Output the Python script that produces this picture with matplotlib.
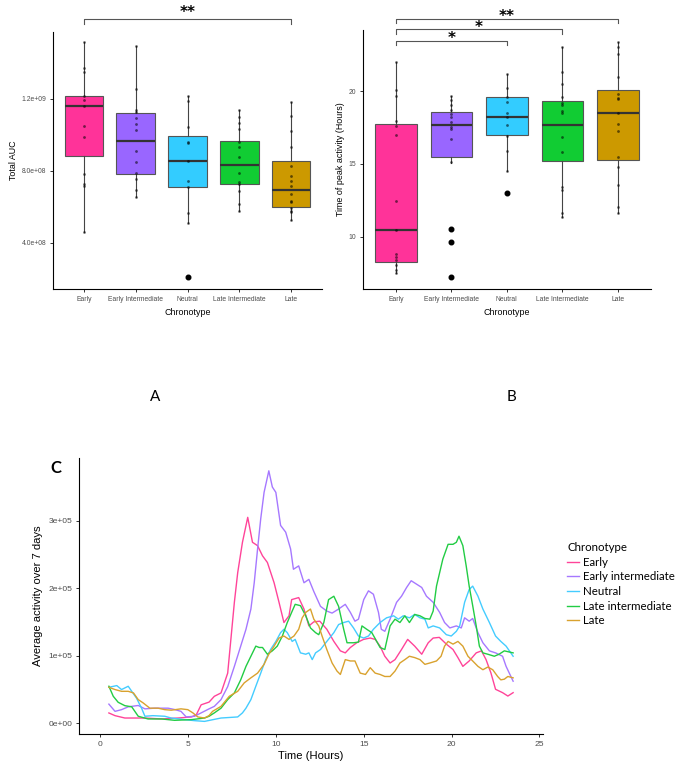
import numpy as np
import matplotlib
matplotlib.use("Agg")
import matplotlib.pyplot as plt

plt.rcParams["font.family"] = ["Liberation Sans", "DejaVu Sans"]

# categories and colours
groups = ['Early', 'Early Intermediate', 'Neutral', 'Late Intermediate', 'Late']
legend_labels = ['Early', 'Early intermediate', 'Neutral', 'Late intermediate', 'Late']
box_colors = ['#FF3399', '#9966FF', '#33CCFF', '#11CC33', '#CC9900']
line_colors = ['#FF4499', '#A678FF', '#44CCFF', '#22CC44', '#D9A22E']

# ---- Panel A: total AUC (raw points, x1e9) ----
auc_early = [1.515, 1.374, 1.352, 1.217, 1.194, 1.161, 1.050, 0.987, 0.782, 0.726, 0.718, 0.463]
auc_early_int = [1.494, 1.256, 1.139, 1.130, 1.096, 1.061, 1.028, 0.913, 0.852, 0.787, 0.756, 0.694, 0.654]
auc_neutral = [1.218, 1.189, 1.043, 0.963, 0.954, 0.854, 0.746, 0.713, 0.565, 0.509, 0.209]
auc_late_int = [1.139, 1.102, 1.065, 1.032, 0.963, 0.935, 0.879, 0.787, 0.737, 0.726, 0.690, 0.617, 0.579]
auc_late = [1.185, 1.107, 1.022, 0.935, 0.830, 0.774, 0.744, 0.718, 0.672, 0.635, 0.628, 0.593, 0.579, 0.570, 0.528]
# box statistics (x1e9)
auc_med = [1.161, 0.968, 0.854, 0.833, 0.696]
auc_q1 = [0.885, 0.785, 0.713, 0.728, 0.602]
auc_q3 = [1.217, 1.124, 0.993, 0.968, 0.856]
auc_lo = [0.463, 0.654, 0.509, 0.579, 0.528]
auc_hi = [1.515, 1.494, 1.218, 1.139, 1.185]
auc_out = [[], [], [0.209], [], []]

# ---- Panel B: time of peak activity (hours) ----
pk_early = [22.0, 20.07, 19.63, 17.94, 17.6, 16.98, 12.47, 10.45, 8.8, 8.62, 8.42, 8.05, 7.68, 7.48]
pk_early_int = [19.66, 19.38, 19.04, 18.7, 18.42, 18.2, 17.9, 17.55, 17.37, 16.68, 15.1, 10.54, 9.61, 7.2]
pk_neutral = [21.21, 20.18, 19.61, 19.27, 18.51, 18.24, 17.66, 16.93, 15.9, 14.53, 12.97]
pk_late_int = [23.0, 21.33, 20.46, 19.61, 19.2, 19.04, 18.6, 18.5, 16.82, 15.83, 13.43, 13.2, 11.65, 11.37]
pk_late = [23.39, 23.05, 22.54, 20.98, 19.79, 19.5, 19.47, 18.47, 17.73, 17.25, 15.45, 14.8, 13.54, 12.06, 11.65]
pk_med = [10.45, 17.66, 18.24, 17.66, 18.47]
pk_q1 = [8.23, 15.49, 16.96, 15.19, 15.26]
pk_q3 = [17.73, 18.56, 19.57, 19.31, 20.07]
pk_lo = [7.48, 15.08, 14.53, 11.33, 11.65]
pk_hi = [22.01, 19.66, 21.21, 23.0, 23.39]
pk_out = [[], [10.54, 9.61, 7.2], [12.97], [], []]

# significance brackets: (group a, group b, height, label)
sig_a = [(1, 5, 1.644e9, '**')]
sig_b = [(1, 5, 24.99, '**'), (1, 4, 24.24, '*'), (1, 3, 23.45, '*')]

# ---- Panel C: average activity over 7 days (hours, counts) ----
early_t = [0.5, 0.85, 1.41, 2.55, 3.5, 4.43, 5.2, 5.47, 5.75, 6.2, 6.5, 6.88, 7.26, 7.64, 7.83, 8.1, 8.4,
           8.67, 8.96, 9.24, 9.52, 9.9, 10.18, 10.46, 10.75, 10.9, 11.3, 11.6, 11.88, 12.16, 12.5, 12.9,
           13.3, 13.67, 13.95, 14.24, 14.6, 14.99, 15.37, 15.65, 15.93, 16.2, 16.5, 16.78, 17.15, 17.5,
           17.9, 18.3, 18.67, 18.95, 19.3, 19.7, 20.08, 20.36, 20.64, 21.0, 21.4, 21.7, 21.96, 22.24,
           22.5, 22.9, 23.2, 23.5]
early_v = [14900, 10900, 7400, 7400, 6000, 7400, 9000, 12000, 27000, 31000, 39600, 44600, 74000,
           179000, 223000, 268000, 305000, 268000, 263000, 248000, 238000, 208000, 179000, 149000,
           159000, 183000, 186000, 169000, 144000, 150000, 151000, 139000, 121000, 107000, 104000,
           112000, 119000, 124000, 126000, 124000, 114000, 99000, 89000, 94000, 109000, 124000,
           114000, 102000, 119000, 126000, 127000, 117000, 109000, 97000, 84000, 92000, 104000,
           107000, 94000, 74000, 50000, 45000, 40000, 45000]

early_int_t = [0.5, 0.85, 1.22, 1.6, 2.17, 2.55, 3.1, 3.87, 4.24, 4.6, 4.9, 5.37, 5.75, 6.2, 6.5, 6.88,
               7.26, 7.64, 8.0, 8.3, 8.58, 8.77, 8.96, 9.14, 9.33, 9.6, 9.8, 10.0, 10.27, 10.56, 10.84,
               11.0, 11.3, 11.6, 11.88, 12.16, 12.54, 12.9, 13.2, 13.57, 13.95, 14.24, 14.5, 14.7,
               15.0, 15.27, 15.55, 15.84, 16.0, 16.2, 16.5, 16.87, 17.15, 17.44, 17.7, 18.0, 18.3,
               18.57, 18.95, 19.32, 19.6, 19.9, 20.27, 20.55, 20.74, 21.0, 21.2, 21.5, 21.78, 22.15,
               22.5, 22.9, 23.1, 23.5]
early_int_v = [28000, 17300, 19800, 24000, 26000, 21000, 22000, 22000, 20000, 17300, 9000, 10000,
               15000, 21000, 24700, 34700, 54000, 84000, 114000, 139000, 169000, 208000, 258000,
               303000, 342000, 374000, 350000, 342000, 293000, 283000, 258000, 228000, 233000,
               208000, 213000, 195000, 173000, 166000, 163000, 169000, 176000, 164000, 151000,
               154000, 183000, 196000, 191000, 164000, 139000, 136000, 154000, 179000, 188000,
               201000, 211000, 206000, 201000, 188000, 179000, 164000, 149000, 141000, 144000,
               141000, 156000, 151000, 155000, 134000, 119000, 107000, 104000, 99000, 84000, 62000]

neutral_t = [0.5, 0.95, 1.22, 1.6, 1.8, 2.07, 2.36, 2.55, 3.0, 3.68, 4.05, 4.8, 5.37, 5.94, 6.88, 7.83,
             8.1, 8.3, 8.58, 8.86, 9.14, 9.42, 9.7, 10.0, 10.27, 10.46, 10.65, 10.93, 11.1, 11.4, 11.7,
             11.88, 12.07, 12.26, 12.54, 12.9, 13.3, 13.57, 13.86, 14.14, 14.42, 14.7, 15.0, 15.27,
             15.55, 15.93, 16.3, 16.7, 16.97, 17.25, 17.6, 17.9, 18.2, 18.48, 18.67, 18.95, 19.32,
             19.7, 19.98, 20.27, 20.46, 20.74, 21.0, 21.2, 21.5, 21.78, 22.15, 22.5, 22.8, 23.1, 23.5]
neutral_v = [53000, 55500, 49600, 54500, 47000, 37000, 22000, 10000, 10900, 10000, 7400, 5000, 3500,
             2400, 7400, 9000, 15000, 22000, 34700, 54500, 74000, 94000, 109000, 121000, 134000,
             139000, 134000, 121000, 124000, 104000, 102000, 104000, 94000, 104000, 109000, 121000,
             134000, 146000, 149000, 151000, 141000, 129000, 126000, 129000, 139000, 149000, 156000,
             159000, 154000, 159000, 156000, 161000, 156000, 154000, 141000, 144000, 141000, 131000,
             129000, 136000, 144000, 179000, 198000, 203000, 188000, 169000, 149000, 129000, 121000,
             114000, 99000]

late_int_t = [0.5, 0.75, 1.03, 1.41, 1.8, 2.17, 2.73, 3.5, 4.24, 5.2, 5.94, 6.2, 6.5, 6.88, 7.26, 7.64,
              8.0, 8.3, 8.58, 8.86, 9.05, 9.24, 9.52, 9.8, 10.08, 10.37, 10.65, 10.93, 11.1, 11.4, 11.7,
              11.97, 12.26, 12.44, 12.73, 13.0, 13.3, 13.57, 13.86, 14.05, 14.42, 14.7, 14.9, 15.17,
              15.46, 15.74, 15.93, 16.2, 16.5, 16.78, 17.06, 17.34, 17.6, 17.9, 18.2, 18.48, 18.76,
              18.95, 19.14, 19.32, 19.5, 19.8, 20.08, 20.27, 20.42, 20.64, 20.83, 21.0, 21.2, 21.4,
              21.58, 21.78, 22.06, 22.43, 22.7, 23.0, 23.5]
late_int_v = [54500, 39600, 30700, 25700, 24000, 10000, 6000, 6000, 4000, 5000, 7400, 10000, 15000,
              22000, 34700, 44600, 64000, 84000, 99000, 114000, 112000, 112000, 102000, 107000,
              114000, 129000, 149000, 166000, 176000, 174000, 159000, 141000, 134000, 131000, 149000,
              183000, 188000, 173000, 139000, 119000, 119000, 120000, 144000, 139000, 134000, 121000,
              112000, 109000, 144000, 154000, 149000, 159000, 149000, 161000, 159000, 155000, 154000,
              166000, 203000, 223000, 243000, 265000, 265000, 268000, 277000, 263000, 233000, 203000,
              174000, 144000, 114000, 104000, 102000, 99000, 102000, 107000, 104000]

late_t = [0.5, 0.85, 1.22, 1.6, 1.9, 2.17, 2.45, 2.83, 3.3, 3.68, 4.05, 4.6, 4.99, 5.28, 5.56, 5.94, 6.2,
          6.4, 6.88, 7.35, 7.83, 8.2, 8.58, 8.96, 9.33, 9.6, 9.9, 10.18, 10.46, 10.75, 11.03, 11.3, 11.5,
          11.7, 11.97, 12.16, 12.44, 12.63, 12.9, 13.2, 13.48, 13.67, 13.95, 14.24, 14.5, 14.8, 15.1,
          15.37, 15.65, 15.93, 16.2, 16.5, 16.78, 17.06, 17.34, 17.6, 17.9, 18.2, 18.48, 18.76, 19.14,
          19.4, 19.6, 19.8, 20.08, 20.36, 20.64, 20.93, 21.2, 21.5, 21.78, 22.06, 22.34, 22.62, 22.8,
          23.0, 23.2, 23.5]
late_v = [53000, 49600, 47000, 47000, 44600, 34700, 29800, 22000, 22000, 19800, 19000, 21000, 19800,
          15000, 9000, 7400, 11000, 17300, 24700, 39600, 47000, 59500, 67000, 74000, 87000, 102000,
          114000, 126000, 129000, 124000, 129000, 139000, 156000, 164000, 169000, 154000, 144000,
          129000, 109000, 89000, 77000, 72000, 94000, 92000, 92000, 74000, 72000, 82000, 74000, 72000,
          69000, 69000, 77000, 89000, 94000, 99000, 97000, 94000, 87000, 89000, 92000, 99000, 114000,
          121000, 117000, 121000, 114000, 99000, 92000, 84000, 79000, 83000, 79000, 69000, 64000,
          65000, 69000, 67000]

W, H = 677, 762
fig = plt.figure(figsize=(W / 100, H / 100), dpi=100)


def px_axes(left, top, right, bottom):
    return fig.add_axes([left / W, 1 - bottom / H, (right - left) / W, (bottom - top) / H])


def style_axes(ax):
    for s in ['top', 'right']:
        ax.spines[s].set_visible(False)
    for s in ['left', 'bottom']:
        ax.spines[s].set_linewidth(0.8)
        ax.spines[s].set_color('black')
    ax.tick_params(length=2.5, width=0.7, color='#333333', labelcolor='#4D4D4D', pad=2.5)


def box_panel(ax, points, med, q1, q3, lo, hi, out):
    stats = []
    for i in range(len(groups)):
        stats.append(dict(med=med[i], q1=q1[i], q3=q3[i], whislo=lo[i], whishi=hi[i], fliers=[]))
    pos = np.arange(1, len(groups) + 1)
    bp = ax.bxp(stats, positions=pos, widths=0.75, showcaps=False, patch_artist=True,
                showfliers=False,
                boxprops=dict(edgecolor='#555555', linewidth=0.8),
                whiskerprops=dict(color='#444444', linewidth=0.8),
                medianprops=dict(color='#333333', linewidth=1.6))
    for patch, c in zip(bp['boxes'], box_colors):
        patch.set_facecolor(c)
    for i, o in enumerate(out):
        if len(o) > 0:
            ax.plot([pos[i]] * len(o), o, 'o', color='black', markersize=3.3, zorder=4)
    for i, p in enumerate(points):
        ax.plot([pos[i]] * len(p), p, 'o', color='black', alpha=0.55, markersize=2.0,
                markeredgewidth=0, zorder=5)
    ax.set_xlim(0.4, 5.6)
    ax.set_xticks(pos)
    ax.set_xticklabels(groups, fontsize=4.9)
    ax.set_xlabel('Chronotype', fontsize=6.4, labelpad=3.5)
    style_axes(ax)


def brackets(ax, sigs, tick, fs, lift):
    for a, b, y, lab in sigs:
        ax.plot([a, a, b, b], [y - tick, y, y, y - tick], color='#555555', lw=0.8,
                clip_on=False, zorder=6)
        ax.annotate(lab, xy=((a + b) / 2, y), xytext=(0, lift), textcoords='offset points',
                    ha='center', va='bottom', fontsize=fs, fontweight='bold',
                    family='DejaVu Sans', annotation_clip=False)


# ---- Panel A ----
axA = px_axes(53, 32, 322, 289)
box_panel(axA, [np.array(p) * 1e9 for p in [auc_early, auc_early_int, auc_neutral, auc_late_int, auc_late]],
          np.array(auc_med) * 1e9, np.array(auc_q1) * 1e9, np.array(auc_q3) * 1e9,
          np.array(auc_lo) * 1e9, np.array(auc_hi) * 1e9,
          [np.array(o) * 1e9 for o in auc_out])
axA.set_ylim(1.44e8, 1.572e9)
axA.set_yticks([4e8, 8e8, 1.2e9])
axA.set_yticklabels(['4.0e+08', '8.0e+08', '1.2e+09'], fontsize=4.9)
axA.set_ylabel('Total AUC', fontsize=6.4, labelpad=2)
brackets(axA, sig_a, 0.28e8, 11, -1)

# ---- Panel B ----
axB = px_axes(362.7, 30, 651, 289)
box_panel(axB, [pk_early, pk_early_int, pk_neutral, pk_late_int, pk_late],
          pk_med, pk_q1, pk_q3, pk_lo, pk_hi, pk_out)
axB.set_ylim(6.4, 24.2)
axB.set_yticks([10, 15, 20])
axB.set_yticklabels(['10', '15', '20'], fontsize=4.9)
axB.set_ylabel('Time of peak activity (Hours)', fontsize=6.4, labelpad=2)
brackets(axB, sig_b, 0.3, 11, -4)

fig.text(155 / W, 1 - 397 / H, 'A', ha='center', va='center', fontsize=11, family='Lato')
fig.text(512 / W, 1 - 397 / H, 'B', ha='center', va='center', fontsize=11, family='Lato')

# ---- Panel C ----
axC = px_axes(79, 458, 543, 734)
series = [(early_t, early_v), (early_int_t, early_int_v), (neutral_t, neutral_v),
          (late_int_t, late_int_v), (late_t, late_v)]
handles = []
for (t, v), c, lab in zip(series, line_colors, legend_labels):
    ln, = axC.plot(t, v, color=c, lw=1.0, label=lab)
    handles.append(ln)
axC.set_xlim(-1.2, 25.2)
axC.set_ylim(-1.63e4, 3.93e5)
axC.set_xticks([0, 5, 10, 15, 20, 25])
axC.set_xticklabels(['0', '5', '10', '15', '20', '25'], fontsize=6.1)
axC.set_yticks([0, 1e5, 2e5, 3e5])
axC.set_yticklabels(['0e+00', '1e+05', '2e+05', '3e+05'], fontsize=6.1)
axC.set_xlabel('Time (Hours)', fontsize=8.1, labelpad=2)
axC.set_ylabel('Average activity over 7 days', fontsize=8.1, labelpad=4)
style_axes(axC)

fig.text(56 / W, 1 - 468 / H, 'C', ha='center', va='center', fontsize=12,
         fontweight='bold', family='Lato')

leg = fig.legend(handles=handles, labels=legend_labels, title='Chronotype',
                 loc='upper left', bbox_to_anchor=(567 / W, 1 - 542 / H),
                 frameon=False, prop=dict(family='Lato', size=8.3),
                 title_fontproperties=dict(family='Lato', size=8.3),
                 alignment='left', handlelength=1.0, handletextpad=0.4,
                 labelspacing=0.32, borderpad=0, borderaxespad=0)

fig.savefig('out.png', dpi=100)
